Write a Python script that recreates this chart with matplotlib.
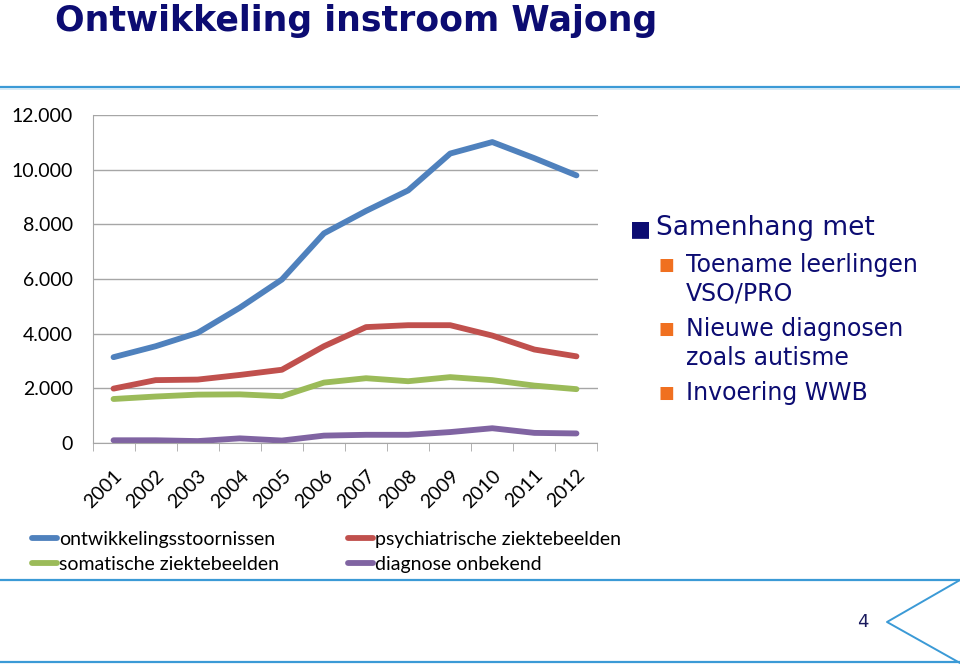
import matplotlib
matplotlib.use("Agg")
import matplotlib.pyplot as plt
from matplotlib.lines import Line2D
from matplotlib.ticker import FuncFormatter, FixedLocator

years = ["2001", "2002", "2003", "2004", "2005", "2006", "2007", "2008", "2009", "2010", "2011", "2012"]
ontwikkelingsstoornissen = [3140, 3540, 4030, 4950, 5980, 7670, 8490, 9240, 10590, 11010, 10420, 9790]
psychiatrische = [1990, 2300, 2320, 2490, 2680, 3540, 4240, 4310, 4310, 3930, 3420, 3170]
somatische = [1610, 1700, 1770, 1780, 1710, 2210, 2370, 2260, 2410, 2300, 2100, 1970]
onbekend = [100, 100, 70, 170, 90, 270, 300, 300, 400, 540, 370, 350]
series_names = ["ontwikkelingsstoornissen", "psychiatrische ziektebeelden",
                "somatische ziektebeelden", "diagnose onbekend"]
series_colors = ["#4f81bd", "#c0504d", "#9bbb59", "#8064a2"]
bullets = ["Toename leerlingen\nVSO/PRO", "Nieuwe diagnosen\nzoals autisme", "Invoering WWB"]

W, H = 960, 664
fig = plt.figure(figsize=(9.6, 6.64), dpi=100)
fig.patch.set_facecolor("white")

def fx(px):
    return px / W

def fy(py):
    return 1 - py / H

ax = fig.add_axes([fx(92.5), fy(443), fx(597.5) - fx(92.5), fy(115) - fy(443)])
x = list(range(len(years)))
data = [ontwikkelingsstoornissen, psychiatrische, somatische, onbekend]
lines = []
for vals, name, col in zip(data, series_names, series_colors):
    ln, = ax.plot(x, vals, color=col, lw=4.2, solid_capstyle="round", solid_joinstyle="round", label=name)
    lines.append(ln)

ax.set_xlim(-0.5, len(years) - 0.5)
ax.set_ylim(0, 12000)
ax.set_yticks(range(0, 12001, 2000))
ax.yaxis.set_major_formatter(FuncFormatter(lambda v, p: f"{int(v):,}".replace(",", ".")))
ax.yaxis.grid(True, color="#a6a6a6", lw=1.0)
ax.set_axisbelow(True)
for s in ["top", "right"]:
    ax.spines[s].set_visible(False)
ax.spines["left"].set_color("#a6a6a6")
ax.spines["bottom"].set_color("#a6a6a6")
ax.tick_params(axis="y", length=0, pad=14, labelsize=14, labelcolor="#000000")
ax.set_xticks(x)
ax.set_xticklabels(years, rotation=45, ha="right", va="top", rotation_mode="anchor", fontsize=14)
ax.tick_params(axis="x", which="major", length=0, pad=17)
ax.xaxis.set_minor_locator(FixedLocator([i - 0.5 for i in range(len(years) + 1)]))
ax.tick_params(axis="x", which="minor", length=6, color="#a6a6a6")
for lab in ax.get_yticklabels() + ax.get_xticklabels():
    lab.set_family(["Lato", "DejaVu Sans"])

leg = fig.legend(handles=[lines[0], lines[2], lines[1], lines[3]],
                 labels=[series_names[0], series_names[2], series_names[1], series_names[3]],
                 ncol=2, loc="upper left", bbox_to_anchor=(fx(14), fy(513)),
                 frameon=False, handlelength=1.3, handletextpad=0.1, columnspacing=3.55,
                 labelspacing=0.42, prop={"family": ["Lato", "DejaVu Sans"], "size": 14})

# Title
fig.text(fx(55), fy(31), "Ontwikkeling instroom Wajong", fontsize=25, fontweight="bold",
         color="#0c0c72", ha="left", va="baseline", family="DejaVu Sans")

# Decorative lines
blue = "#3b9ad6"
fig.add_artist(Line2D([0, 1], [fy(87), fy(87)], color=blue, lw=1.6))
fig.add_artist(Line2D([0, 1], [fy(89), fy(89)], color="#cfe6f5", lw=1.2))
fig.add_artist(Line2D([0, 1], [fy(580), fy(580)], color=blue, lw=1.6))
fig.add_artist(Line2D([0, 1], [fy(662), fy(662)], color=blue, lw=1.6))
fig.add_artist(Line2D([fx(960), fx(887), fx(960)], [fy(580), fy(622), fy(663)], color=blue, lw=1.4))
fig.text(fx(863), fy(622), "4", fontsize=13, color="#1a1a5e", ha="center", va="center")

# Right side text
navy = "#0c0c72"
orange = "#f07020"
fig.text(fx(630), fy(229), "\u25A0", fontsize=16, color=navy, ha="left", va="center", family="DejaVu Sans")
fig.text(fx(656), fy(228), "Samenhang met", fontsize=19, color=navy, ha="left", va="center", family="DejaVu Sans")
ypos = [265, 329, 393]
for yy, txt in zip(ypos, bullets):
    fig.text(fx(658), fy(yy), "\u25A0", fontsize=12, color=orange, ha="left", va="center", family="DejaVu Sans")
    fig.text(fx(686), fy(yy - 12), txt, fontsize=17, color=navy, ha="left", va="top",
             family="DejaVu Sans", linespacing=1.25)

fig.savefig("out.png", dpi=100, facecolor="white")
